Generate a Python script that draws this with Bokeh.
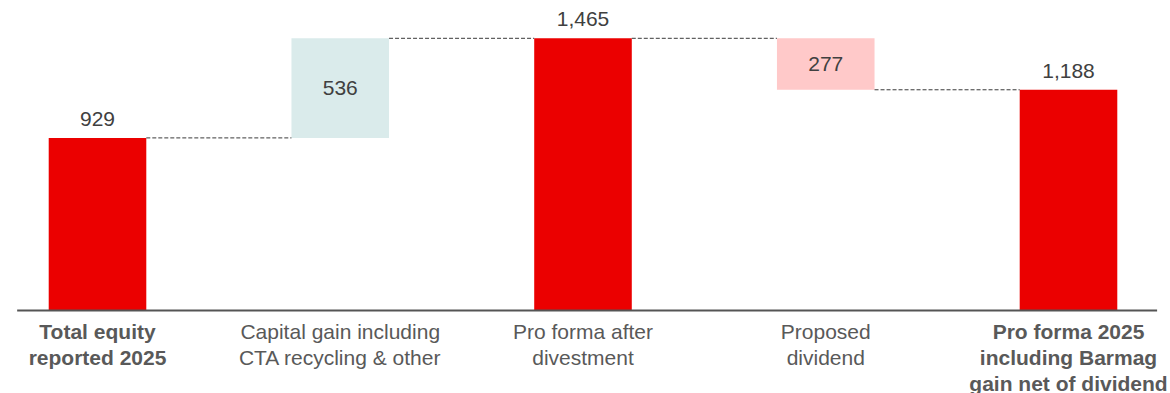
from bokeh.plotting import figure
from bokeh.models import ColumnDataSource, Range1d
from bokeh.core.properties import value
from bokeh.embed import file_html
from bokeh.resources import INLINE

# Equity bridge, 2025 (in millions)
categories = [
    "Total equity\nreported 2025",
    "Capital gain including\nCTA recycling & other",
    "Pro forma after\ndivestment",
    "Proposed\ndividend",
    "Pro forma 2025\nincluding Barmag\ngain net of dividend",
]
amounts = [929, 536, 1465, -277, 1188]
kinds = ["total", "delta", "total", "delta", "total"]
bold_labels = [True, False, False, False, True]

FONT = value("Liberation Sans")
RED = "#EB0000"
UP = "#DAEBEB"
DOWN = "#FFC9C9"
BAR_W = 0.402

# running levels for the waterfall
bottoms, tops, ends = [], [], []
level = 0
for amt, kind in zip(amounts, kinds):
    if kind == "total":
        b, t = 0, amt
        level = amt
    else:
        start = level
        level = level + amt
        b, t = min(start, level), max(start, level)
    bottoms.append(b)
    tops.append(t)
    ends.append(level)

xs = list(range(len(categories)))
colors = [RED if k == "total" else (UP if a > 0 else DOWN) for k, a in zip(kinds, amounts)]

p = figure(
    width=1170, height=393,
    x_range=Range1d(-0.3996, 4.4202),
    y_range=Range1d(-446.7, 1668.5),
    output_backend="svg", toolbar_location=None,
    x_axis_location=None, y_axis_location=None,
    min_border=0, outline_line_color=None,
)
p.grid.visible = False
p.background_fill_color = "white"

bars = ColumnDataSource(dict(x=xs, bottom=bottoms, top=tops, color=colors))
p.vbar(x="x", bottom="bottom", top="top", width=BAR_W, fill_color="color",
       line_color=None, source=bars)

# dashed connectors between consecutive bars
conn = ColumnDataSource(dict(
    x0=[x + BAR_W / 2 for x in xs[:-1]],
    x1=[x + 1 - BAR_W / 2 for x in xs[:-1]],
    y=ends[:-1],
))
p.segment(x0="x0", y0="y", x1="x1", y1="y", line_color="#3a3a3a",
          line_width=1, line_dash="4 2", source=conn)

# baseline
p.segment(x0=[xs[0] - 0.331], y0=[0], x1=[xs[-1] + 0.365], y1=[0],
          line_color="#555555", line_width=2)

# value labels: totals above the bar, changes centered inside
def fmt(v):
    return f"{abs(v):,}"

tot_idx = [i for i, k in enumerate(kinds) if k == "total"]
dlt_idx = [i for i, k in enumerate(kinds) if k != "total"]
p.text(x=[xs[i] for i in tot_idx], y=[tops[i] for i in tot_idx],
       text=[fmt(amounts[i]) for i in tot_idx], text_font=FONT,
       text_font_size="21px", text_color="#404040", text_align="center",
       text_baseline="alphabetic", y_offset=-19)
p.text(x=[xs[i] for i in dlt_idx], y=[(tops[i] + bottoms[i]) / 2 for i in dlt_idx],
       text=[fmt(amounts[i]) for i in dlt_idx], text_font=FONT,
       text_font_size="21px", text_color="#404040", text_align="center",
       text_baseline="middle")

# category labels under the baseline
cats = ColumnDataSource(dict(
    x=xs, y=[0] * len(xs), text=categories,
    style=["bold" if b else "normal" for b in bold_labels],
))
p.text(x="x", y="y", text="text", text_font=FONT, text_font_size="21px",
       text_font_style="style", text_color="#595959", text_align="center",
       text_baseline="top", text_line_height=1.15, y_offset=9, source=cats)

open("out.html", "w").write(file_html(p, INLINE))
